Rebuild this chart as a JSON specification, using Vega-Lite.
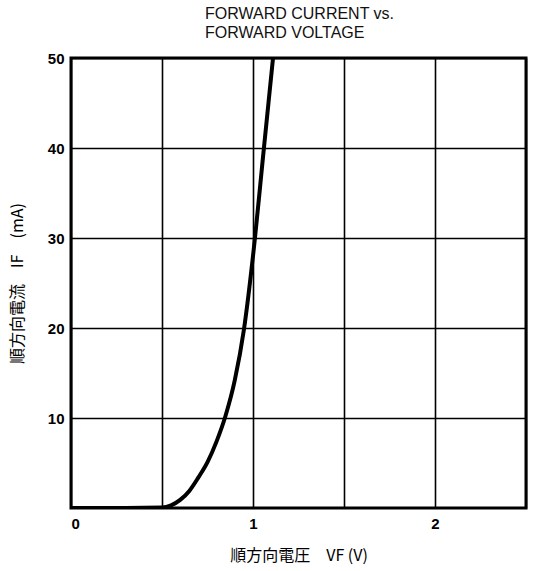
{
  "$schema": "https://vega.github.io/schema/vega-lite/v6.json",
  "width": 455,
  "height": 450,
  "autosize": "none",
  "padding": {"left": 71, "top": 58, "right": 9, "bottom": 63},
  "background": "white",
  "title": {
    "text": ["FORWARD CURRENT vs.", "FORWARD VOLTAGE"],
    "font": "Liberation Sans",
    "fontSize": 16,
    "fontWeight": "normal",
    "color": "#111",
    "anchor": "start",
    "frame": "group",
    "align": "left",
    "dx": 134,
    "offset": 10,
    "lineHeight": 19
  },
  "config": {
    "view": {"stroke": "#000", "strokeWidth": 3},
    "axis": {"gridColor": "#000", "gridOpacity": 1, "gridWidth": 1.6, "domain": false, "ticks": false,
      "labelFont": "Liberation Sans", "labelFontWeight": "bold", "labelFontSize": 15, "labelColor": "#000",
      "titleFont": "Noto Sans CJK JP", "titleFontWeight": "normal", "titleFontSize": 16, "titleColor": "#000"}
  },
  "data": {"values": [
    {"v": 0.0, "i": 0.0},
    {"v": 0.3, "i": 0.0},
    {"v": 0.5, "i": 0.05},
    {"v": 0.55, "i": 0.3},
    {"v": 0.6, "i": 0.9},
    {"v": 0.65, "i": 1.9},
    {"v": 0.7, "i": 3.4},
    {"v": 0.75, "i": 5.1},
    {"v": 0.8, "i": 7.4},
    {"v": 0.85, "i": 10.3},
    {"v": 0.9, "i": 14.2},
    {"v": 0.95, "i": 19.8},
    {"v": 1.0, "i": 28.0},
    {"v": 1.06, "i": 40},
    {"v": 1.11, "i": 50}
  ]},
  "mark": {"type": "line", "color": "#000", "strokeWidth": 4, "interpolate": "monotone", "clip": true},
  "encoding": {
    "x": {"field": "v", "type": "quantitative",
      "scale": {"domain": [0, 2.5], "nice": false},
      "axis": {"values": [0, 0.5, 1, 1.5, 2, 2.5], "labelExpr": "datum.value % 1 == 0 ? format(datum.value, 'd') : ''",
        "labelPadding": 8, "title": "順方向電圧　VF (V)", "titlePadding": 16}},
    "y": {"field": "i", "type": "quantitative",
      "scale": {"domain": [0, 50], "nice": false},
      "axis": {"values": [10, 20, 30, 40, 50], "labelPadding": 7, "title": "順方向電流　IF　(mA)", "titlePadding": 22}}
  }
}
